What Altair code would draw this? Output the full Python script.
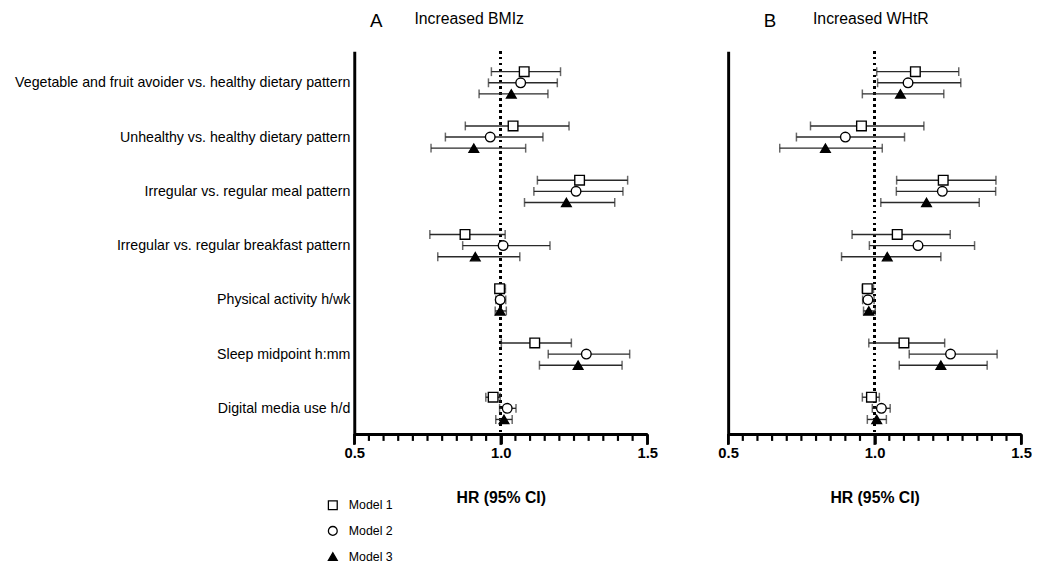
import altair as alt
import pandas as pd
import json

groups = [
    "Vegetable and fruit avoider vs. healthy dietary pattern",
    "Unhealthy vs. healthy dietary pattern",
    "Irregular vs. regular meal pattern",
    "Irregular vs. regular breakfast pattern",
    "Physical activity h/wk",
    "Sleep midpoint h:mm",
    "Digital media use h/d",
]
models = ["Model 1", "Model 2", "Model 3"]

# Panel A: Increased BMIz  (per group: model1, model2, model3)
a_hr = [[1.080, 1.068, 1.036], [1.042, 0.964, 0.908], [1.269, 1.257, 1.224],
        [0.878, 1.008, 0.913], [0.996, 0.998, 0.998], [1.116, 1.292, 1.264],
        [0.974, 1.022, 1.011]]
a_lo = [[0.968, 0.958, 0.926], [0.879, 0.811, 0.762], [1.125, 1.113, 1.081],
        [0.758, 0.870, 0.785], [0.982, 0.983, 0.981], [1.002, 1.162, 1.132],
        [0.949, 0.996, 0.983]]
a_hi = [[1.204, 1.193, 1.161], [1.233, 1.144, 1.085], [1.433, 1.417, 1.389],
        [1.015, 1.168, 1.065], [1.016, 1.017, 1.019], [1.241, 1.440, 1.414],
        [0.998, 1.052, 1.039]]

# Panel B: Increased WHtR
b_hr = [[1.139, 1.114, 1.088], [0.955, 0.900, 0.832], [1.234, 1.231, 1.177],
        [1.077, 1.148, 1.043], [0.975, 0.977, 0.980], [1.100, 1.259, 1.226],
        [0.989, 1.023, 1.007]]
b_lo = [[1.007, 1.010, 0.958], [0.781, 0.733, 0.676], [1.075, 1.074, 1.021],
        [0.923, 0.982, 0.887], [0.958, 0.959, 0.962], [0.980, 1.118, 1.084],
        [0.958, 0.992, 0.975]]
b_hi = [[1.287, 1.294, 1.236], [1.168, 1.102, 1.026], [1.414, 1.413, 1.357],
        [1.258, 1.341, 1.226], [0.996, 0.998, 1.002], [1.239, 1.418, 1.384],
        [1.016, 1.053, 1.040]]

panel_letters = ["A", "B"]
panel_titles = ["Increased BMIz", "Increased WHtR"]
x_title = "HR (95% CI)"
major_ticks = [0.5, 1.0, 1.5]
minor_ticks = [0.55, 0.6, 0.65, 0.7, 0.75, 0.8, 0.85, 0.9, 0.95,
               1.05, 1.1, 1.15, 1.2, 1.25, 1.3, 1.35, 1.4, 1.45]
shapes = ["square", "circle", "triangle-up"]
fills = ["white", "white", "black"]
strokes = ["black", "black", "black"]

FONT = "Liberation Sans"
MODEL_OFFSET = 0.205
H = 388
W = 297


def make_df(hr, lo, hi):
    rows = []
    for gi, g in enumerate(groups):
        for mi, m in enumerate(models):
            rows.append({
                "group": g, "model": m,
                "pos": gi + (mi - 1) * MODEL_OFFSET,
                "hr": hr[gi][mi], "lo": lo[gi][mi], "hi": hi[gi][mi],
            })
    return pd.DataFrame(rows)


label_expr_y = json.dumps(groups) + "[datum.value]"
major_df = pd.DataFrame({"v": major_ticks})
minor_df = pd.DataFrame({"v": minor_ticks})


def panel(df, letter, title, show_labels, letter_x, title_x):
    base = alt.Chart(df)
    xscale = alt.Scale(domain=[0.5, 1.5], nice=False, zero=False)
    yscale = alt.Scale(domain=[-0.582, 6.473], reverse=True, nice=False, zero=False)

    main_axis = alt.Axis(
        values=major_ticks, format=".1f", orient="bottom",
        ticks=True, tickSize=10, tickWidth=2.4, tickColor="#000000", tickOpacity=1,
        domainWidth=3, domainColor="black", zindex=1,
        labelFont=FONT, labelFontSize=15, labelFontWeight="bold", labelColor="black",
        labelPadding=2, labelFlush=False, labelOverlap=False,
        title=x_title, titleFont=FONT, titleFontSize=16, titleFontWeight="bold",
        titleColor="black", titlePadding=29, grid=False,
    )
    if show_labels:
        y_axis = alt.Axis(
            values=list(range(len(groups))), labelExpr=label_expr_y,
            ticks=False, grid=False, domainWidth=3, domainColor="black", zindex=1,
            labelFont=FONT, labelFontSize=14.4, labelColor="black",
            labelPadding=4.5, title=None, labelLimit=600,
        )
    else:
        y_axis = alt.Axis(labels=False, ticks=False, grid=False, domainWidth=3,
                          domainColor="black", title=None, zindex=1)

    ref = base.mark_rule(strokeDash=[2, 4], strokeWidth=2.5, color="black").encode(
        x=alt.datum(1.0, scale=xscale, axis=None, type="quantitative")
    )
    ticks_major = alt.Chart(major_df).mark_tick(
        orient="vertical", size=11, thickness=2.4, color="black", opacity=1, clip=False
    ).encode(x=alt.X("v:Q", scale=xscale, axis=None), y=alt.value(H + 5.5))
    ticks_minor = alt.Chart(minor_df).mark_tick(
        orient="vertical", size=7, thickness=2.2, color="black", opacity=1, clip=False
    ).encode(x=alt.X("v:Q", scale=xscale, axis=None), y=alt.value(H + 3.5))
    bars = base.mark_rule(strokeWidth=1.4, color="#2a2a2a").encode(
        x=alt.X("lo:Q", scale=xscale, axis=main_axis),
        x2="hi:Q",
        y=alt.Y("pos:Q", scale=yscale, axis=y_axis),
    )
    cap_lo = base.mark_tick(orient="vertical", size=9, thickness=1.5, color="#2a2a2a").encode(
        x=alt.X("lo:Q", axis=None), y=alt.Y("pos:Q", axis=y_axis))
    cap_hi = base.mark_tick(orient="vertical", size=9, thickness=1.5, color="#2a2a2a").encode(
        x=alt.X("hi:Q", axis=None), y=alt.Y("pos:Q", axis=y_axis))
    pts = base.mark_point(size=95, strokeWidth=1.4, opacity=1).encode(
        x=alt.X("hr:Q", axis=None), y=alt.Y("pos:Q", axis=y_axis),
        shape=alt.Shape("model:N", scale=alt.Scale(domain=models, range=shapes),
                        legend=alt.Legend(title=None)),
        fill=alt.Fill("model:N", scale=alt.Scale(domain=models, range=fills),
                      legend=alt.Legend(title=None)),
        stroke=alt.Stroke("model:N", scale=alt.Scale(domain=models, range=strokes),
                          legend=alt.Legend(title=None)),
    )
    t_letter = alt.Chart(pd.DataFrame({"t": [letter]})).mark_text(
        font=FONT, fontSize=19, align="left", baseline="alphabetic", color="black"
    ).encode(text="t:N", x=alt.value(letter_x), y=alt.value(-25))
    t_title = alt.Chart(pd.DataFrame({"t": [title]})).mark_text(
        font=FONT, fontSize=16, align="left", baseline="alphabetic", color="black"
    ).encode(text="t:N", x=alt.value(title_x), y=alt.value(-27.5))

    return alt.layer(ref, bars, cap_lo, cap_hi, pts, t_letter, t_title,
                     ticks_minor, ticks_major).resolve_axis(x="independent").properties(
        width=W, height=H)


pa = panel(make_df(a_hr, a_lo, a_hi), panel_letters[0], panel_titles[0], True, 16, 61)
pb = panel(make_df(b_hr, b_lo, b_hi), panel_letters[1], panel_titles[1], False, 36, 86)

chart = alt.hconcat(pa, pb, spacing=60).properties(
    padding={"left": 6, "top": -1, "right": 0, "bottom": 0}
).configure_view(stroke=None).configure_legend(
    orient="none", legendX=-28, legendY=454, direction="vertical",
    labelFont=FONT, labelFontSize=12.5, labelColor="black",
    symbolSize=80, symbolStrokeWidth=1.3, rowPadding=11, labelOffset=10,
)

chart.save("out.html", embed_options={"renderer": "svg", "actions": False})
